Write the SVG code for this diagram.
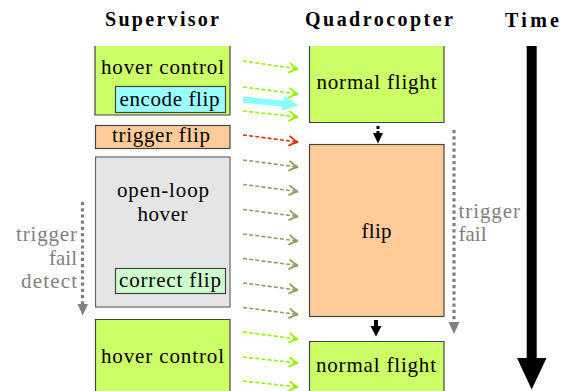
<svg xmlns="http://www.w3.org/2000/svg" width="566" height="391" viewBox="0 0 566 391">
<style>
text{font-family:"Liberation Serif","DejaVu Serif",serif;font-size:21px;fill:#000}
.hd{font-weight:bold;font-size:20px}
.lbl{fill:#808080}
.box{stroke:#444;stroke-width:1.2}
.g{fill:#ccff66}
.o{fill:#ffcc99}
.gr{fill:#e5e5e5;stroke:#666}
.ln{fill:none;stroke-width:1.6;stroke-dasharray:4 2.2}
.lg{stroke:#99ee00}
.lo{stroke:#999966}
.lr{stroke:#d23a0c}
</style>
<defs>
<marker id="hg" markerUnits="userSpaceOnUse" orient="auto" markerWidth="14" markerHeight="14" refX="11" refY="7" viewBox="0 0 14 14" overflow="visible"><path d="M2,2 Q7,6 11,7 Q7,8 2,12" fill="none" stroke="#99ee00" stroke-width="1.8"/></marker>
<marker id="ho" markerUnits="userSpaceOnUse" orient="auto" markerWidth="14" markerHeight="14" refX="11" refY="7" viewBox="0 0 14 14" overflow="visible"><path d="M2,2 Q7,6 11,7 Q7,8 2,12" fill="none" stroke="#999966" stroke-width="1.8"/></marker>
<marker id="hr" markerUnits="userSpaceOnUse" orient="auto" markerWidth="14" markerHeight="14" refX="11" refY="7" viewBox="0 0 14 14" overflow="visible"><path d="M2,2 Q7,6 11,7 Q7,8 2,12" fill="none" stroke="#d23a0c" stroke-width="1.8"/></marker>
</defs>

<g id="headers">
<text class="hd" x="162" y="26" text-anchor="middle" textLength="114">Supervisor</text>
<text class="hd" x="379" y="26" text-anchor="middle" textLength="148">Quadrocopter</text>
<text class="hd" x="532" y="27" text-anchor="middle" textLength="54">Time</text>
</g>

<g id="sup-hover1">
<path class="box g" d="M95,46 V115 H230 V46"/>
<text x="162.5" y="74" text-anchor="middle" textLength="123">hover control</text>
</g>
<g id="sup-encode">
<rect class="box" x="115.5" y="86.5" width="110" height="26" fill="#99ffff"/>
<text x="169.5" y="106" text-anchor="middle" textLength="100">encode flip</text>
</g>
<g id="sup-trigger">
<rect class="box o" x="95.5" y="125.5" width="134.5" height="23"/>
<text x="161" y="142" text-anchor="middle" textLength="98">trigger flip</text>
</g>
<g id="sup-openloop">
<rect class="box gr" x="95.5" y="157" width="134.5" height="150"/>
<text x="163" y="197" text-anchor="middle" textLength="92">open-loop</text>
<text x="162.5" y="221" text-anchor="middle" textLength="50">hover</text>
</g>
<g id="sup-correct">
<rect class="box" x="115.5" y="268.5" width="110" height="25" fill="#ccffcc"/>
<text x="170" y="286.5" text-anchor="middle" textLength="102">correct flip</text>
</g>
<g id="sup-hover2">
<path class="box g" d="M95.5,391 V319.5 H230 V391"/>
<text x="162.5" y="362.5" text-anchor="middle" textLength="123">hover control</text>
</g>

<g id="q-normal1">
<path class="box g" d="M309.5,46 V122.5 H444 V46"/>
<text x="376.5" y="89" text-anchor="middle" textLength="120">normal flight</text>
</g>
<g id="q-flip">
<rect class="box o" x="309.5" y="144.5" width="134.5" height="172"/>
<text x="376.5" y="238" text-anchor="middle" textLength="30">flip</text>
</g>
<g id="q-normal2">
<path class="box g" d="M309.5,391 V341.5 H444 V391"/>
<text x="376" y="372" text-anchor="middle" textLength="120">normal flight</text>
</g>

<g id="labels">
<text class="lbl" x="77" y="241" text-anchor="end" textLength="61">trigger</text>
<text class="lbl" x="77" y="265" text-anchor="end" textLength="28">fail</text>
<text class="lbl" x="77" y="288" text-anchor="end" textLength="56">detect</text>
<text class="lbl" x="458.5" y="217.5" textLength="61.5">trigger</text>
<text class="lbl" x="458.5" y="240.5" textLength="28">fail</text>
</g>

<g id="connectors">
<path class="ln lg" d="M243,61 L298,69" marker-end="url(#hg)"/>
<path class="ln lg" d="M243,87 L298,94" marker-end="url(#hg)"/>
<path class="ln lg" d="M243,111 L298,117" marker-end="url(#hg)"/>
<path d="M243,99.5 L286,104" stroke="#88ffff" stroke-width="6" fill="none"/>
<path d="M284,96 L298.5,105.5 L282,110.5 Z" fill="#88ffff"/>
<path class="ln lr" d="M243,135 L298,142" marker-end="url(#hr)"/>
<path class="ln lo" d="M243,160 L298,167" marker-end="url(#ho)"/>
<path class="ln lo" d="M243,184.5 L298,191.5" marker-end="url(#ho)"/>
<path class="ln lo" d="M243,209.5 L298,216.5" marker-end="url(#ho)"/>
<path class="ln lo" d="M243,234 L298,241" marker-end="url(#ho)"/>
<path class="ln lo" d="M243,258.5 L298,265.5" marker-end="url(#ho)"/>
<path class="ln lo" d="M243,283 L298,290" marker-end="url(#ho)"/>
<path class="ln lo" d="M243,307.5 L298,314.5" marker-end="url(#ho)"/>
<path class="ln lg" d="M243,332 L298,339" marker-end="url(#hg)"/>
<path class="ln lg" d="M243,357 L298,363" marker-end="url(#hg)"/>
<path class="ln lg" d="M243,381 L298,387" marker-end="url(#hg)"/>

<path d="M378,126 V135" stroke="#000" stroke-width="3" stroke-dasharray="3 2"/>
<path d="M373,133 H383 L378,143.5 Z" fill="#000"/>
<path d="M376,320 V328" stroke="#000" stroke-width="4"/>
<path d="M370.5,326 H381.5 L376,336.5 Z" fill="#000"/>

<path d="M454,130 V326" stroke="#808080" stroke-width="3.2" stroke-dasharray="3.2 3" fill="none"/>
<path d="M448.5,322 H459.5 L454,334 Z" fill="#808080"/>
<path d="M82.5,202 V307" stroke="#808080" stroke-width="3.2" stroke-dasharray="3.2 3" fill="none"/>
<path d="M77.5,304 H88 L82.7,315.5 Z" fill="#808080"/>

<path d="M531.7,46 V360" stroke="#000" stroke-width="10"/>
<path d="M517,358 H546.5 L531.7,389.5 Z" fill="#000"/>
</g>
</svg>
